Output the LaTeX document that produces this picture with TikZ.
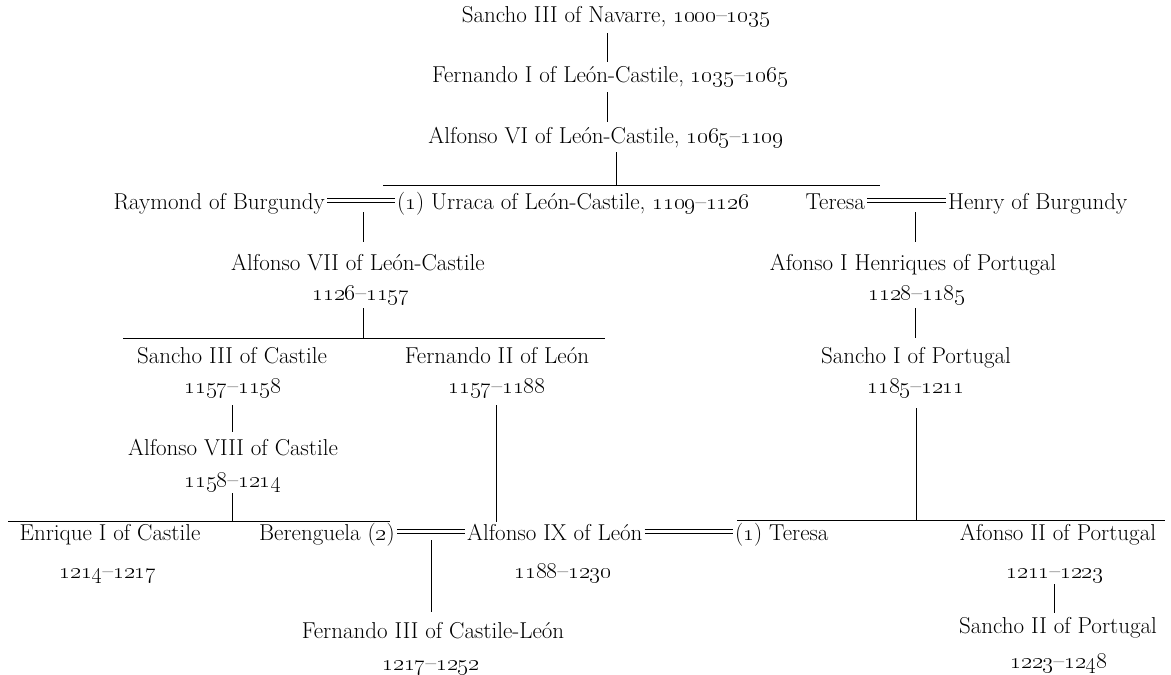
\RequirePackage{fix-cm}
\documentclass[tikz,border=0pt]{standalone}
\newcommand\yr[2]{\oldstylenums{#1}\textendash\oldstylenums{#2}}
\begin{document}
\begin{tikzpicture}[x=1pt,y=-1pt,font=\fontsize{23}{28}\selectfont,
  nm/.style={anchor=base,inner sep=0pt,text height=16pt,text depth=4pt},
  nme/.style={nm,anchor=base east},
  nmw/.style={nm,anchor=base west},
  ln/.style={line width=0.9pt},
  wed/.style={double,double distance=3pt,line width=0.7pt}]
\useasboundingbox (0,0) rectangle (1171,675);

% --- generations 1-3
\node[nm] (sancho) at (616,22) {Sancho III of Navarre, \yr{1000}{1035}};
\node[nm] (fern1)  at (610,82) {Fernando I of León-Castile, \yr{1035}{1065}};
\node[nm] (alf6)   at (606,143) {Alfonso VI of León-Castile, \yr{1065}{1109}};
\coordinate (x1) at (607,0);
\draw[ln,shorten <=7pt,shorten >=4pt] (sancho.south -| x1) -- (fern1.north -| x1);
\draw[ln,shorten <=6pt,shorten >=5pt] (fern1.south -| x1) -- (alf6.north -| x1);

% --- children of Alfonso VI
\coordinate (b1l) at (383,185);
\coordinate (b1r) at (880,185);
\coordinate (j1)  at (616,185);
\draw[ln] (b1l) -- (b1r);
\draw[ln,shorten <=5pt] (alf6.south -| j1) -- (j1);

\node[nme] (raymond) at (325,209) {Raymond of Burgundy};
\node[nmw] (urraca)  at (397,209) {(\oldstylenums{1}) Urraca of León-Castile, \yr{1109}{1126}};
\node[nme] (teresa)  at (865,209) {Teresa};
\node[nmw] (henry)   at (948,209) {Henry of Burgundy};
\draw[wed,shorten <=2pt,shorten >=2pt] ([yshift=2.5pt]raymond.east) -- ([yshift=2.5pt]urraca.west);
\draw[wed,shorten <=2pt,shorten >=2pt] ([yshift=2.5pt]teresa.east) -- ([yshift=2.5pt]henry.west);
\coordinate (m1) at (363,212);
\coordinate (m2) at (915,212);

% --- Alfonso VII / Afonso I
\node[nm] (alf7)    at (358,270) {Alfonso VII of León-Castile};
\node[nm] (d1126)   at (361,300) {\yr{1126}{1157}};
\node[nm] (afonso1) at (913,270) {Afonso I Henriques of Portugal};
\node[nm] (d1128)   at (917,300) {\yr{1128}{1185}};
\draw[ln,shorten >=12pt] (m1) -- (alf7.north -| m1);
\draw[ln,shorten >=12pt] (m2) -- (afonso1.north -| m2);

\coordinate (b2l) at (123,338);
\coordinate (b2r) at (605,338);
\coordinate (j2)  at (363,338);
\draw[ln] (b2l) -- (b2r);
\draw[ln,shorten <=4pt] (d1126.south -| j2) -- (j2);

% --- Sancho III / Fernando II / Sancho I
\node[nm] (sancho3) at (232,363) {Sancho III of Castile};
\node[nm] (d1157a)  at (233,393) {\yr{1157}{1158}};
\node[nm] (fern2)   at (497,363) {Fernando II of León};
\node[nm] (d1157b)  at (497,393) {\yr{1157}{1188}};
\node[nm] (sancho1) at (916,363) {Sancho I of Portugal};
\node[nm] (d1185)   at (916,393) {\yr{1185}{1211}};
\coordinate (x2) at (915,0);
\draw[ln,shorten <=4pt,shorten >=9pt] (d1128.south -| x2) -- (sancho1.north -| x2);

% --- Alfonso VIII
\node[nm] (alf8)  at (233,455) {Alfonso VIII of Castile};
\node[nm] (d1158) at (233,487) {\yr{1158}{1214}};
\coordinate (x3) at (232,0);
\draw[ln,shorten <=8pt,shorten >=7pt] (d1157a.south -| x3) -- (alf8.north -| x3);

\coordinate (b3l) at (8,521);
\coordinate (b3r) at (390,521);
\coordinate (j3)  at (232,521);
\draw[ln] (b3l) -- (b3r);
\draw[ln,shorten <=2pt] (d1158.south -| j3) -- (j3);

\coordinate (b4l) at (737,520);
\coordinate (b4r) at (1165,520);
\coordinate (j4)  at (916,520);
\draw[ln] (b4l) -- (b4r);
\draw[ln,shorten <=11pt] (d1185.south -| j4) -- (j4);

% --- bottom generation
\node[nm]  (enrique)    at (110,540) {Enrique I of Castile};
\node[nm]  (d1214)      at (108,578) {\yr{1214}{1217}};
\node[nme] (berenguela) at (395,540) {Berenguela (\oldstylenums{2})};
\node[nmw] (alf9)       at (467,540) {Alfonso IX of León};
\node[nm]  (d1188)      at (563,578) {\yr{1188}{1230}};
\node[nmw] (teresa2)    at (735,540) {(\oldstylenums{1}) Teresa};
\node[nm]  (afonso2)    at (1058,540) {Afonso II of Portugal};
\node[nm]  (d1211)      at (1055,578) {\yr{1211}{1223}};
\coordinate (x4) at (496,0);
\draw[ln,shorten <=8pt,shorten >=2pt] (d1157b.south -| x4) -- (alf9.north -| x4);
\draw[wed,shorten <=2pt,shorten >=2pt] ([yshift=2.5pt]berenguela.east) -- ([yshift=2.5pt]alf9.west);
\draw[wed,shorten <=2pt,shorten >=2pt] ([yshift=2.5pt]alf9.east) -- ([yshift=2.5pt]teresa2.west);
\coordinate (m3) at (431,540);

\node[nm] (fern3) at (433,638) {Fernando III of Castile-León};
\node[nm] (d1217) at (431,670) {\yr{1217}{1252}};
\draw[ln,shorten >=10pt] (m3) -- (fern3.north -| m3);

\node[nm] (sancho2) at (1058,633) {Sancho II of Portugal};
\node[nm] (d1223)   at (1059,668) {\yr{1223}{1248}};
\coordinate (x5) at (1054,0);
\draw[ln,shorten <=2pt,shorten >=4pt] (d1211.south -| x5) -- (sancho2.north -| x5);
\end{tikzpicture}
\end{document}
